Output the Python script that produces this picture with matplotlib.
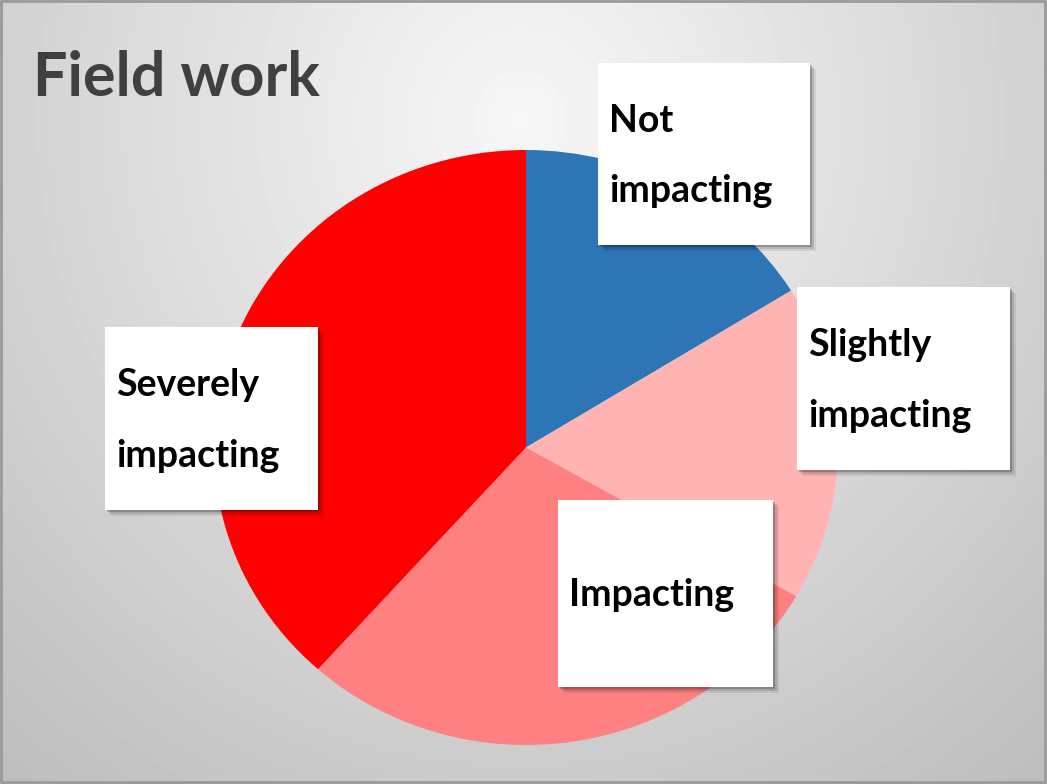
import numpy as np
import matplotlib.pyplot as plt
from matplotlib.patches import Rectangle

plt.rcParams['font.family'] = ['Lato', 'DejaVu Sans']

# data (share of respondents)
categories = ["Not\nimpacting", "Slightly\nimpacting", "Impacting", "Severely\nimpacting"]
values = [16, 17, 28, 38]
colors = ["#2E75B6", "#FFB3B3", "#FF8080", "#FF0000"]
title = "Field work"

# label boxes in pixels: left, top, width, height
boxes = [(598, 63, 212, 182), (797, 287, 213, 183), (558, 500, 215, 187), (105, 327, 213, 183)]

W, H = 1047, 784
fig = plt.figure(figsize=(W / 100, H / 100), dpi=100)

# background gradient
bg = fig.add_axes([0, 0, 1, 1])
yy, xx = np.mgrid[0:H, 0:W]
d = np.sqrt(((xx - 520) / 700.0) ** 2 + ((yy - 120) / 750.0) ** 2)
shade = np.clip(0.97 - 0.2 * d, 0.74, 0.97)
bg.imshow(shade, cmap="gray", vmin=0, vmax=1, extent=[0, W, H, 0], aspect="auto")
bg.set_xlim(0, W)
bg.set_ylim(H, 0)
bg.axis("off")
bg.add_patch(Rectangle((1, 1), W - 3, H - 3, fill=False, edgecolor="#9a9a9a", lw=2))
bg.text(33, 78, title, fontsize=44, fontweight="bold", color="#404040", va="center", ha="left")

# pie (slightly wider than tall, like the slide)
pl, pr, pt, pb = 214, 838, 150, 745
ax = fig.add_axes([pl / W, 1 - pb / H, (pr - pl) / W, (pb - pt) / H])
ax.pie(values, colors=colors, startangle=90, counterclock=False,
       wedgeprops=dict(linewidth=0))
ax.set_aspect("auto")
ax.set_xlim(-1, 1)
ax.set_ylim(-1, 1)
ax.axis("off")

# label boxes on top
ov = fig.add_axes([0, 0, 1, 1])
ov.set_xlim(0, W)
ov.set_ylim(H, 0)
ov.axis("off")
ov.patch.set_alpha(0)
for (bx, by, bw, bh), lab in zip(boxes, categories):
    for k, a in [(6, 0.08), (4, 0.12), (2, 0.2)]:
        ov.add_patch(Rectangle((bx + k, by + k), bw, bh, facecolor="black", alpha=a, lw=0))
    ov.add_patch(Rectangle((bx, by), bw, bh, facecolor="white", lw=0))
    ov.text(bx + 11, by + bh / 2 + 2, lab, fontsize=27, fontweight="bold", color="black",
            ha="left", va="center", linespacing=2.3)

fig.savefig("out.png", dpi=100)
